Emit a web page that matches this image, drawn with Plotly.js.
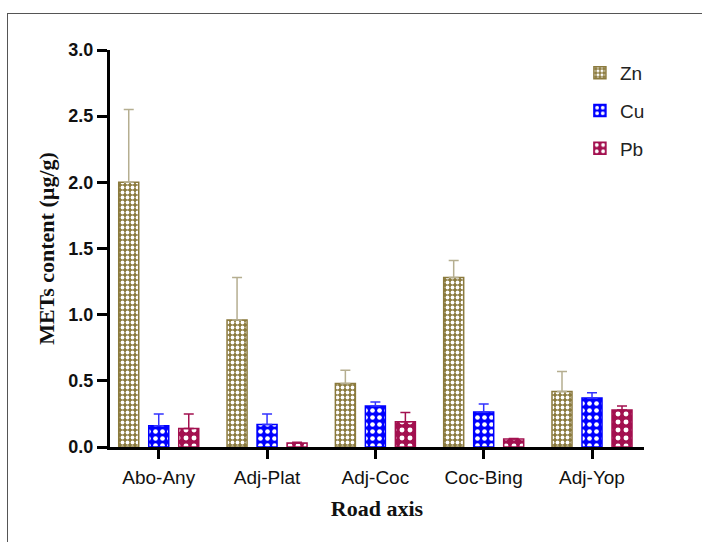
<!DOCTYPE html>
<html><head><meta charset="utf-8">
<script src="https://cdn.plot.ly/plotly-3.0.1.min.js"></script>
<style>body{margin:0;background:#fff}#frame{position:absolute;left:7px;top:13px;width:700px;height:530px;border-left:1px solid #555;border-top:1px solid #555;pointer-events:none}</style>
</head><body>
<div id="chart" style="width:702px;height:542px;"></div>
<div id="frame"></div>
<script>
const categories = ["Abo-Any","Adj-Plat","Adj-Coc","Coc-Bing","Adj-Yop"];
const znValues = [2.00, 0.96, 0.48, 1.28, 0.42];
const znErrors = [0.55, 0.32, 0.10, 0.13, 0.15];
const cuValues = [0.16, 0.17, 0.31, 0.265, 0.37];
const cuErrors = [0.09, 0.08, 0.03, 0.06, 0.04];
const pbValues = [0.14, 0.03, 0.19, 0.06, 0.28];
const pbErrors = [0.11, 0.005, 0.07, 0.005, 0.03];
const yTicks = [0, 0.5, 1.0, 1.5, 2.0, 2.5, 3.0];

function trace(name, vals, errs, color, errColor, psize, sol) {
  return {
    type: 'bar', name: name, x: categories, y: vals,
    marker: {color: color, line: {color: color, width: 1.5},
      pattern: {shape: '.', fgcolor: '#ffffff', bgcolor: color, size: psize, solidity: sol, fillmode: 'replace'}},
    error_y: {type: 'data', symmetric: false, array: errs, arrayminus: errs.map(() => 0),
      color: errColor, thickness: 1.5, width: 5},
    legendgroup: name
  };
}
const data = [
  trace('Zn', znValues, znErrors, '#8b7a3d', '#b5ae90', 5, 0.45),
  trace('Cu', cuValues, cuErrors, '#0000ff', '#3333ff', 7, 0.35),
  trace('Pb', pbValues, pbErrors, '#a3104f', '#a3104f', 8, 0.3)
];
const layout = {
  width: 702, height: 542,
  margin: {l: 110, r: 58, t: 50, b: 95},
  paper_bgcolor: '#fff', plot_bgcolor: '#fff',
  barmode: 'group', bargap: 0.169, bargroupgap: 0.333,
  showlegend: true,
  legend: {x: 0.88, y: 0.99, xanchor: 'left', yanchor: 'top', font: {family: 'Liberation Sans, Arial', size: 19, color: '#222'},
    tracegroupgap: 10, bgcolor: 'rgba(0,0,0,0)'},
  xaxis: {range: [-0.45, 4.48], showline: true, linecolor: '#000', linewidth: 3, ticks: 'outside', ticklen: 9, tickwidth: 3, tickcolor: '#000',
    tickfont: {family: 'Liberation Sans, Arial', size: 19, color: '#111'}, ticklabelstandoff: 2, showgrid: false, zeroline: false,
    title: {text: 'Road axis', font: {family: 'Liberation Serif, Times New Roman', size: 22, color: '#111', weight: 'bold'}, standoff: 14}},
  yaxis: {range: [0, 3.0], tickvals: yTicks, ticktext: yTicks.map(v => v.toFixed(1)), showline: true, linecolor: '#000', linewidth: 3,
    ticks: 'outside', ticklen: 10, tickwidth: 3, tickcolor: '#000', showgrid: false, zeroline: false,
    tickfont: {family: 'Liberation Sans, Arial', size: 18, color: '#111', weight: 'bold'},
    title: {text: 'METs content (µg/g)', font: {family: 'Liberation Serif, Times New Roman', size: 22, color: '#111', weight: 'bold'}, standoff: 8}}
};
Plotly.newPlot('chart', data, layout, {displayModeBar: false, staticPlot: true});
</script>
</body></html>
